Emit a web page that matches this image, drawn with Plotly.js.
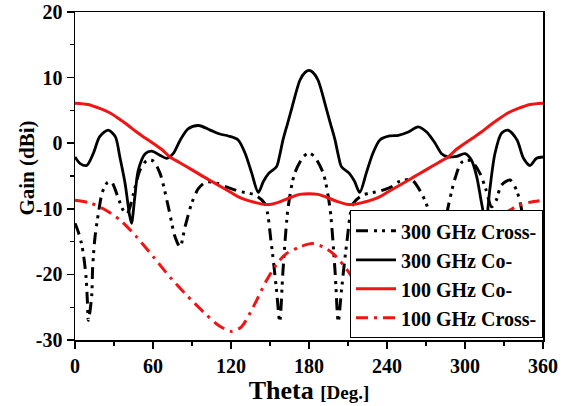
<!DOCTYPE html>
<html>
<head>
<meta charset="utf-8">
<script src="https://cdn.plot.ly/plotly-3.0.1.min.js"></script>
<style>
  html, body { margin: 0; padding: 0; background: #fff; }
  #chart { width: 574px; height: 406px; }
</style>
</head>
<body>
<div id="chart"></div>
<script>
// Radiation pattern cuts: gain (dBi) versus theta (degrees)

// 300 GHz co-polarisation
const theta300Co = [0, 4, 9, 14, 19, 25.5, 31, 34.5, 38.5, 42, 43.5, 46, 48.7, 54, 59, 65, 70.5, 75.5, 81, 87, 95, 104, 111.5, 118, 125.5, 131, 136, 141, 145, 149, 155, 157.5, 160, 163.5, 167, 173, 177, 180,
  183, 187, 193, 196.5, 200, 202.5, 205, 211, 215, 219, 224, 229, 234.5, 242, 248.7, 256.4, 264, 270.5, 277, 282, 287, 293.6, 300, 305, 309, 312.8, 316, 319, 323, 328, 333, 340, 345, 350, 355, 360];
const gain300Co = [-2.1, -3.1, -3.4, -1.6, 1.0, 2.0, 1.0, -2.1, -6.1, -11.0, -12.2, -8.2, -4.1, -1.6, -1.2, -1.8, -2.3, -1.6, 0.5, 2.2, 2.7, 2.0, 1.4, 1.1, 0.5, -1.6, -4.6, -7.5, -5.8, -4.6, -3.6, -1.8, 0.5, 3.0, 5.5, 9.6, 10.8, 11.1,
  10.8, 9.6, 5.5, 3.0, 0.5, -1.8, -3.6, -4.6, -5.8, -7.5, -4.6, -1.6, 0.5, 1.1, 1.2, 1.7, 2.5, 1.7, 0.0, -1.6, -2.1, -2.0, -1.6, -2.6, -5.1, -9.2, -12.2, -7.2, -1.6, 1.5, 2.0, 0.5, -2.3, -3.4, -2.3, -2.1];

// 300 GHz cross-polarisation
const theta300Cross = [0, 2.5, 5, 6.5, 8.5, 9.5, 10.3, 12.8, 13.6, 15.4, 18, 21, 25, 28, 33, 37, 40, 45, 50, 55, 60, 65.4, 71.8, 77, 80.8, 84.6, 89.7, 95, 101, 109, 117, 125.6, 138.5, 146, 151, 155, 157.5, 160, 164, 169, 175.6, 180,
  184.4, 191, 196, 200, 202.5, 205, 209, 214, 221.5, 234.4, 243, 248.7, 259, 266.7, 272, 275.4, 279.2, 283, 286, 292, 297, 301, 305, 311.5, 316, 320.5, 324, 328, 334.6, 339.7, 343.6, 345.5, 346.5, 347.3, 349.7, 350.5, 351.5, 353.5, 355, 357.5, 360];
const gain300Cross = [-12.2, -13.5, -15.3, -17.0, -20.4, -24.0, -27.0, -23.4, -18.9, -14.3, -10.7, -7.5, -6.0, -5.9, -8.2, -10.2, -10.8, -7.7, -4.1, -2.7, -2.7, -4.6, -9.7, -14.3, -15.8, -12.8, -9.2, -6.9, -5.9, -6.1, -6.7, -7.3, -7.9, -9.2, -15.3, -22.4, -27.2, -19.4, -9.7, -4.6, -2.1, -1.5,
  -2.1, -4.6, -9.7, -19.4, -27.2, -22.4, -15.3, -9.2, -7.9, -7.3, -6.7, -5.9, -5.6, -7.7, -10.2, -12.8, -15.8, -14.3, -10.7, -5.6, -3.0, -2.6, -2.7, -4.6, -7.0, -9.7, -8.7, -6.4, -5.6, -7.2, -10.2, -14.3, -18.9, -23.4, -27.0, -24.0, -20.4, -17.0, -15.3, -13.5, -12.2];

// 100 GHz co-polarisation
const theta100Co = [0, 10, 19, 27, 34.6, 41, 47.4, 54, 60, 67, 73, 80, 86, 92, 98.7, 105, 112, 119, 125, 131, 138, 145, 151, 158, 166.7, 173, 180,
  187, 193, 202, 209, 215, 222, 229, 235, 241, 248, 255, 261, 268, 274, 280, 287, 293, 300, 306, 312.6, 319, 325.4, 333, 341, 350, 360];
const gain100Co = [6.1, 5.9, 5.3, 4.6, 3.6, 2.7, 1.7, 0.8, 0.0, -1.0, -2.1, -2.9, -3.6, -4.3, -5.1, -5.8, -6.6, -7.4, -8.1, -8.6, -9.0, -9.3, -9.3, -8.9, -8.2, -7.8, -7.7,
  -7.8, -8.2, -8.9, -9.3, -9.3, -9.0, -8.6, -8.1, -7.4, -6.6, -5.8, -5.1, -4.3, -3.6, -2.9, -2.1, -1.0, 0.0, 0.8, 1.7, 2.7, 3.6, 4.6, 5.3, 5.9, 6.1];

// 100 GHz cross-polarisation
const theta100Cross = [0, 11.5, 21.8, 34.6, 47.4, 60.2, 73, 86, 98.7, 110, 120.5, 128, 137, 147.4, 156.4, 162.8, 173, 183, 193.6, 200,
  210, 222, 232, 240, 250, 262, 274, 287, 300, 312.6, 323, 332, 341, 350, 360];
const gain100Cross = [-8.7, -9.1, -10.0, -11.7, -14.3, -17.3, -20.4, -23.2, -25.7, -27.7, -28.7, -28.0, -25.0, -20.9, -18.1, -16.8, -15.8, -15.3, -16.1, -17.1,
  -19.5, -23.5, -27.5, -28.7, -27.5, -25.7, -23.2, -20.4, -17.3, -14.3, -11.7, -10.5, -9.5, -9.0, -8.7];

// Axis ticks
const xTickVals = [0, 60, 120, 180, 240, 300, 360];
const xTickText = ['0', '60', '120', '180', '240', '300', '360'];
const yTickVals = [-30, -20, -10, 0, 10, 20];
const yTickText = ['-30', '-20', '-10', '0', '10', '20'];

const RED = '#f01414';
const FONT = 'Liberation Serif, Times New Roman, serif';

const traces = [
  { x: theta300Cross, y: gain300Cross, name: '300 GHz Cross-', mode: 'lines',
    line: { color: '#000', width: 3, dash: '12px,6px,3px,5px,3px,6px', shape: 'spline', smoothing: 0.8 } },
  { x: theta300Co, y: gain300Co, name: '300 GHz Co-', mode: 'lines',
    line: { color: '#000', width: 2.8, shape: 'spline', smoothing: 0.8 } },
  { x: theta100Co, y: gain100Co, name: '100 GHz Co-', mode: 'lines',
    line: { color: RED, width: 3, shape: 'spline', smoothing: 0.8 } },
  { x: theta100Cross, y: gain100Cross, name: '100 GHz Cross-', mode: 'lines',
    line: { color: RED, width: 3, dash: '12px,6px,3px,6px', shape: 'spline', smoothing: 0.8 } }
];

const axisCommon = {
  showgrid: false, zeroline: false,
  showline: true, linecolor: '#000', linewidth: 1.5, mirror: true,
  ticks: 'outside', ticklen: 7, tickwidth: 1.5, tickcolor: '#000',
  tickfont: { family: FONT, size: 20, color: '#000', weight: 'bold' },
  tickmode: 'array'
};

const layout = {
  width: 574, height: 406,
  margin: { l: 75, r: 31, t: 12, b: 66 },
  paper_bgcolor: '#fff', plot_bgcolor: '#fff',
  font: { family: FONT, color: '#000', weight: 'bold' },
  showlegend: true,
  xaxis: Object.assign({}, axisCommon, {
    range: [0, 360], tickvals: xTickVals, ticktext: xTickText,
    minor: { tickmode: 'linear', dtick: 30, ticks: 'outside', ticklen: 4, tickwidth: 1.2, tickcolor: '#000' },
    title: { text: 'Theta <span style="font-size:19px">[Deg.]</span>',
             font: { family: FONT, size: 26, color: '#000', weight: 'bold' }, standoff: 0 }
  }),
  yaxis: Object.assign({}, axisCommon, {
    range: [-30, 20], tickvals: yTickVals, ticktext: yTickText,
    minor: { tickmode: 'linear', dtick: 5, ticks: 'outside', ticklen: 4, tickwidth: 1.2, tickcolor: '#000' }
  }),
  annotations: [{
    text: 'Gain (dBi)', textangle: -90,
    xref: 'paper', yref: 'paper', x: -0.103, y: 0.525,
    xanchor: 'center', yanchor: 'middle', showarrow: false,
    font: { family: FONT, size: 21, color: '#000', weight: 'bold' }
  }],
  legend: {
    x: 1, xanchor: 'right', y: 0.005, yanchor: 'bottom',
    bgcolor: '#fff', bordercolor: '#000', borderwidth: 1,
    font: { family: FONT, size: 20, color: '#000', weight: 'bold' },
    itemwidth: 40, tracegroupgap: 0
  }
};

Plotly.newPlot('chart', traces, layout, { displayModeBar: false, staticPlot: true });
</script>
</body>
</html>
